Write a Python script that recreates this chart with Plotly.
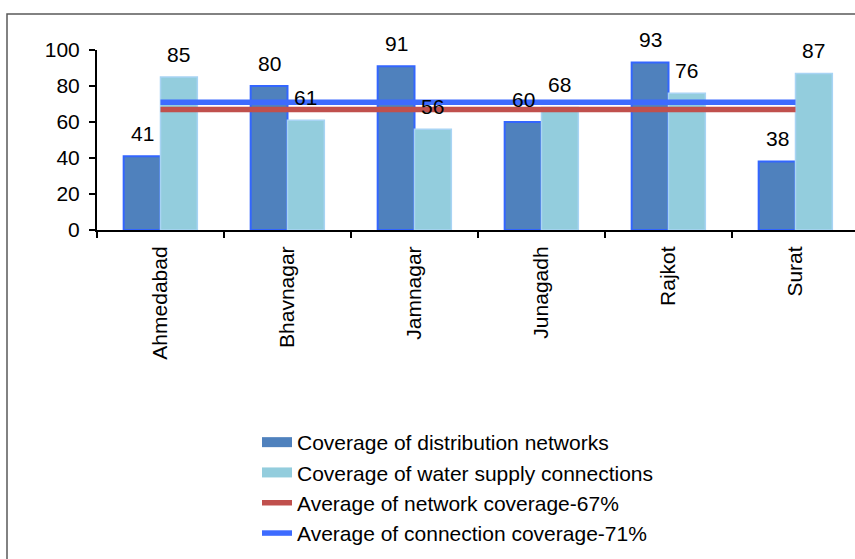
import plotly.graph_objects as go

cities = ["Ahmedabad", "Bhavnagar", "Jamnagar", "Junagadh", "Rajkot", "Surat"]
network_coverage = [41, 80, 91, 60, 93, 38]
connection_coverage = [85, 61, 56, 68, 76, 87]
network_avg = 67
connection_avg = 71
y_ticks = [0, 20, 40, 60, 80, 100]

FONT = "Liberation Sans, Arial, sans-serif"
FS = 21
DARK = "#4F81BD"
DARK_EDGE = "#3366FF"
LIGHT = "#93CDDD"
LIGHT_EDGE = "#A8D4F4"
RED = "#C0504D"
BLUE = "#3D6BFF"

BARGAP = 0.42
half = (1 - BARGAP) / 4  # centre offset of each bar within a group

fig = go.Figure()

fig.add_trace(go.Bar(
    x=cities, y=network_coverage, name="Coverage of distribution networks",
    marker=dict(color=DARK, line=dict(color=DARK_EDGE, width=2)),
    showlegend=False,
))
fig.add_trace(go.Bar(
    x=cities, y=connection_coverage, name="Coverage of water supply connections",
    marker=dict(color=LIGHT, line=dict(color=LIGHT_EDGE, width=1.5)),
    showlegend=False,
))

# legend keys for the two bar series, drawn as wide flat swatches
fig.add_trace(go.Scatter(
    x=[None], y=[None], mode="lines", name="Coverage of distribution networks",
    line=dict(color=DARK, width=10),
))
fig.add_trace(go.Scatter(
    x=[None], y=[None], mode="lines", name="Coverage of water supply connections",
    line=dict(color=LIGHT, width=10),
))

fig.add_trace(go.Scatter(
    x=cities, y=[network_avg] * len(cities), mode="lines",
    name=f"Average of network coverage-{network_avg}%",
    line=dict(color=RED, width=5.5),
))
fig.add_trace(go.Scatter(
    x=cities, y=[connection_avg] * len(cities), mode="lines",
    name=f"Average of connection coverage-{connection_avg}%",
    line=dict(color=BLUE, width=5.5),
))

# value labels above each bar
for i, (a, b) in enumerate(zip(network_coverage, connection_coverage)):
    for x, v in ((i - half, a), (i + half, b)):
        fig.add_annotation(
            x=x, y=v, xref="x", yref="y", text=str(v), showarrow=False,
            yshift=23, font=dict(family=FONT, size=FS, color="black"),
        )

W, H = 855, 559
L, R, T, B = 97, 0, 50, 329
pw, ph = W - L - R, H - T - B

# chart frame: top and left edges (the rest runs off the page)
fx0 = (7 - L) / pw
fx1 = (W + 30 - L) / pw
fy1 = (ph + T - 14) / ph
fy0 = -(H + 30 - T - ph) / ph
fig.add_shape(
    type="path", xref="paper", yref="paper",
    path=f"M{fx1},{fy1} L{fx0},{fy1} L{fx0},{fy0}",
    line=dict(color="#595959", width=1.5), layer="below",
)

fig.update_layout(
    width=W, height=H,
    margin=dict(l=L, r=R, t=T, b=B, pad=0),
    paper_bgcolor="white", plot_bgcolor="white",
    barmode="group", bargap=BARGAP, bargroupgap=0,
    font=dict(family=FONT, size=FS, color="black"),
    legend=dict(
        x=(257 - L) / pw, xanchor="left",
        y=-(422 - T - ph) / ph, yanchor="top",
        bgcolor="rgba(0,0,0,0)", font=dict(size=FS),
        itemwidth=30, tracegroupgap=0,
    ),
    xaxis=dict(
        range=[-0.5, -0.5 + pw / 127], showgrid=False, zeroline=False,
        showline=True, linecolor="black", linewidth=2,
        ticks="outside", ticklen=6, tickwidth=1.5, tickcolor="black",
        tickson="boundaries", tickangle=-90, ticklabelstandoff=6,
        tickfont=dict(size=FS),
    ),
    yaxis=dict(
        range=[0, 100], tickvals=y_ticks, showgrid=False, zeroline=False,
        showline=True, linecolor="black", linewidth=2,
        ticks="outside", ticklen=6, tickwidth=1.5, tickcolor="black",
        ticklabelstandoff=5, tickfont=dict(size=FS),
    ),
)

fig.write_html("out.html")
